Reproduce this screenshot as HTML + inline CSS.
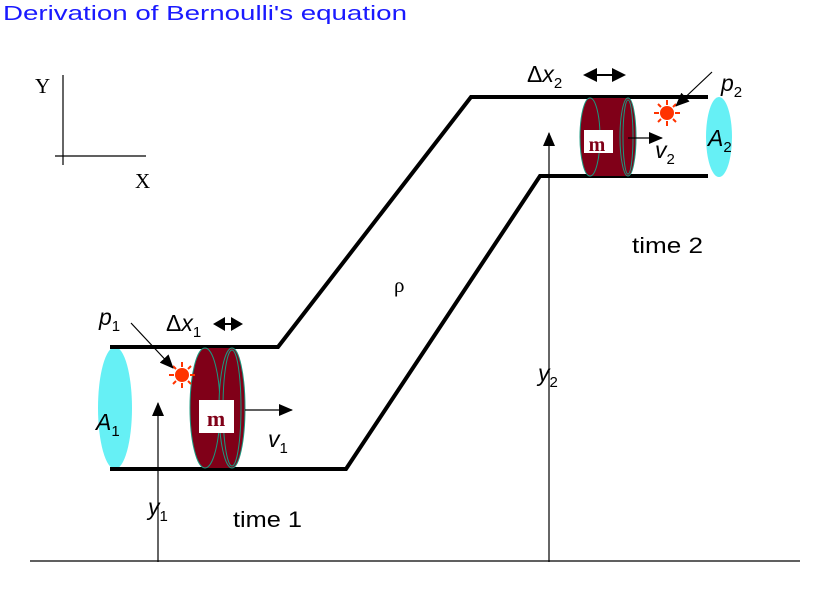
<!DOCTYPE html>
<html><head><style>body{margin:0;background:#fff}svg{display:block}</style></head><body>
<svg width="819" height="603" xmlns="http://www.w3.org/2000/svg" font-family="Liberation Sans, sans-serif">
<defs>
<marker id="ah2" markerWidth="14" markerHeight="12" refX="13" refY="6" orient="auto" markerUnits="userSpaceOnUse"><path d="M0,0 L14,6 L0,12 Z" fill="#000"/></marker></defs>
<text x="3" y="20" font-size="20" fill="#1a1aff" textLength="404" lengthAdjust="spacingAndGlyphs">Derivation of Bernoulli's equation</text>
<text x="35" y="93" font-size="21" font-family="Liberation Serif, serif">Y</text>
<text x="135" y="188" font-size="21" font-family="Liberation Serif, serif">X</text>
<line x1="63" y1="75" x2="63" y2="165" stroke="#000" stroke-width="1.2"/>
<line x1="55" y1="156" x2="146" y2="156" stroke="#000" stroke-width="1.2"/>
<ellipse cx="115" cy="408" rx="17" ry="61" fill="#66f0f5"/>
<ellipse cx="719" cy="137" rx="13" ry="40" fill="#66f0f5"/>
<polyline points="110,347 278,347 471,97 708,97" fill="none" stroke="#000" stroke-width="4"/>
<polyline points="110,469 346,469 540,176 708,176" fill="none" stroke="#000" stroke-width="4"/>
<line x1="30" y1="561" x2="800" y2="561" stroke="#000" stroke-width="1.2"/>
<line x1="158" y1="562" x2="158" y2="403" stroke="#000" stroke-width="1.2" marker-end="url(#ah2)"/>
<line x1="549" y1="562" x2="549" y2="133" stroke="#000" stroke-width="1.2" marker-end="url(#ah2)"/>
<g stroke="#1a9a80" stroke-width="1">
<rect x="205" y="348" width="27" height="120" fill="#800018" stroke="none"/>
<ellipse cx="205" cy="408" rx="15" ry="60" fill="#800018"/>
<ellipse cx="232" cy="408" rx="13" ry="60" fill="#800018"/>
<ellipse cx="232" cy="408" rx="9" ry="58" fill="none"/>
</g>
<rect x="199" y="400" width="35" height="33" fill="#fff"/>
<text x="216" y="426" font-size="22" font-weight="bold" fill="#800018" text-anchor="middle" font-family="Liberation Serif, serif">m</text>
<line x1="245" y1="410" x2="292" y2="410" stroke="#000" stroke-width="1.2" marker-end="url(#ah2)"/>
<g stroke="#1a9a80" stroke-width="1">
<rect x="590" y="98" width="38" height="78" fill="#800018" stroke="none"/>
<ellipse cx="590" cy="137" rx="10" ry="39" fill="#800018"/>
<ellipse cx="628" cy="137" rx="8" ry="39" fill="#800018"/>
<ellipse cx="628" cy="137" rx="5" ry="37" fill="none"/>
</g>
<rect x="584" y="130" width="29" height="23" fill="#fff"/>
<text x="597" y="151" font-size="20" font-weight="bold" fill="#800018" text-anchor="middle" font-family="Liberation Serif, serif">m</text>
<line x1="628" y1="138" x2="662" y2="138" stroke="#000" stroke-width="1.2" marker-end="url(#ah2)"/>
<g fill="#ff3300">
<circle cx="182" cy="375" r="7"/>
<g stroke="#ff3300" stroke-width="2"><path d="M182,362v5M182,383v5M169,375h5M190,375h5M173,366l3,3M188,381l3,3M173,384l3,-3M188,369l3,-3"/></g>
<circle cx="667" cy="113" r="7"/>
<g stroke="#ff3300" stroke-width="2"><path d="M667,100v5M667,121v5M654,113h5M675,113h5M658,104l3,3M673,119l3,3M658,122l3,-3M673,107l3,-3"/></g>
</g>
<line x1="131" y1="323" x2="173" y2="368" stroke="#000" stroke-width="1.2" marker-end="url(#ah2)"/>
<line x1="712" y1="72" x2="676" y2="106" stroke="#000" stroke-width="1.2" marker-end="url(#ah2)"/>
<g fill="#000">
<path d="M213,324 L225,317 L225,331 Z M243,324 L231,317 L231,331 Z"/>
<line x1="222" y1="324" x2="234" y2="324" stroke="#000" stroke-width="2"/>
<path d="M583,75 L597,68 L597,82 Z M626,75 L612,68 L612,82 Z"/>
<line x1="595" y1="75" x2="614" y2="75" stroke="#000" stroke-width="2"/>
</g>
<g font-size="23" font-style="italic">
<text x="99" y="325">p<tspan font-size="15" dy="6" font-style="normal">1</tspan></text>
<text x="721" y="91">p<tspan font-size="15" dy="6" font-style="normal">2</tspan></text>
<text x="96" y="430">A<tspan font-size="15" dy="6" font-style="normal">1</tspan></text>
<text x="708" y="146">A<tspan font-size="15" dy="6" font-style="normal">2</tspan></text>
<text x="268" y="447">v<tspan font-size="15" dy="6" font-style="normal">1</tspan></text>
<text x="655" y="158">v<tspan font-size="15" dy="6" font-style="normal">2</tspan></text>
<text x="148" y="515">y<tspan font-size="15" dy="6" font-style="normal">1</tspan></text>
<text x="538" y="381">y<tspan font-size="15" dy="6" font-style="normal">2</tspan></text>
<text x="166" y="331"><tspan font-style="normal">Δ</tspan>x<tspan font-size="15" dy="6" font-style="normal">1</tspan></text>
<text x="527" y="82"><tspan font-style="normal">Δ</tspan>x<tspan font-size="15" dy="6" font-style="normal">2</tspan></text>
</g>
<text x="233" y="527" font-size="22" textLength="69" lengthAdjust="spacingAndGlyphs">time 1</text>
<text x="632" y="253" font-size="22" textLength="71" lengthAdjust="spacingAndGlyphs">time 2</text>
<text x="394" y="292" font-size="21" font-family="Liberation Serif, serif">ρ</text>
</svg>
</body></html>
